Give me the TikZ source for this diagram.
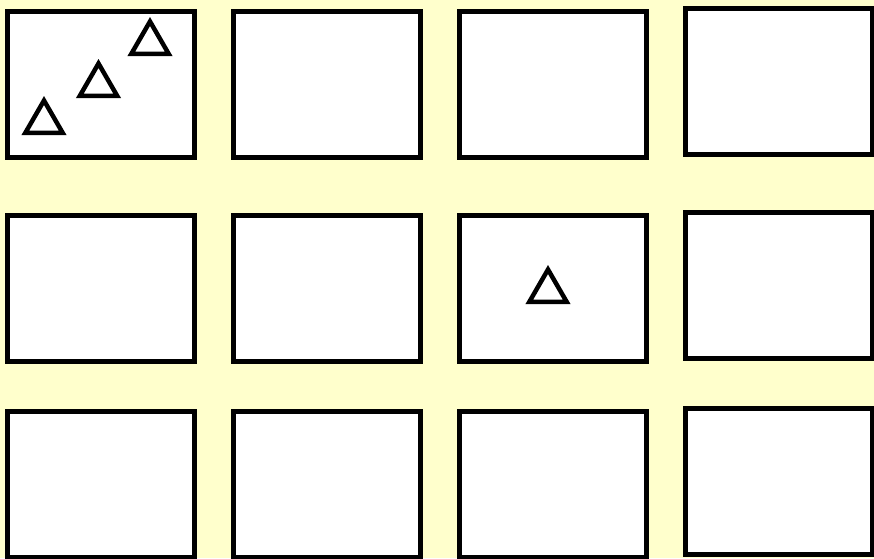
\documentclass[tikz,border=0pt]{standalone}
\usetikzlibrary{shapes.geometric}
\definecolor{paneyellow}{RGB}{255,255,204}

\begin{document}
\begin{tikzpicture}[
  x=1pt, y=-1pt,
  cell/.style={rectangle, draw=black, fill=white, line width=5pt,
               minimum width=187pt, minimum height=146pt,
               inner sep=0pt, outer sep=0pt},
  tri/.style={regular polygon, regular polygon sides=3, draw=black,
              line width=4.5pt, minimum size=43pt, inner sep=0pt},
]
% background
\fill[paneyellow] (0,0) rectangle (874,558);
\useasboundingbox (0,0) rectangle (874,558);

% 3 x 4 grid of panes (last column sits a little higher)
\foreach \c/\x/\lift in {1/100.5/0, 2/326.5/0, 3/552.5/0, 4/778.5/3}
  \foreach \r/\y in {1/84, 2/288, 3/484}
    \node[cell] (box\r\c) at (\x,{\y-\lift}) {};

% triangles
\node[tri] (t1) at (44,122)    {};
\node[tri] (t2) at (98.5,85)   {};
\node[tri] (t3) at (150,43)    {};
\node[tri] (t4) at (548,291)   {};
\end{tikzpicture}
\end{document}
